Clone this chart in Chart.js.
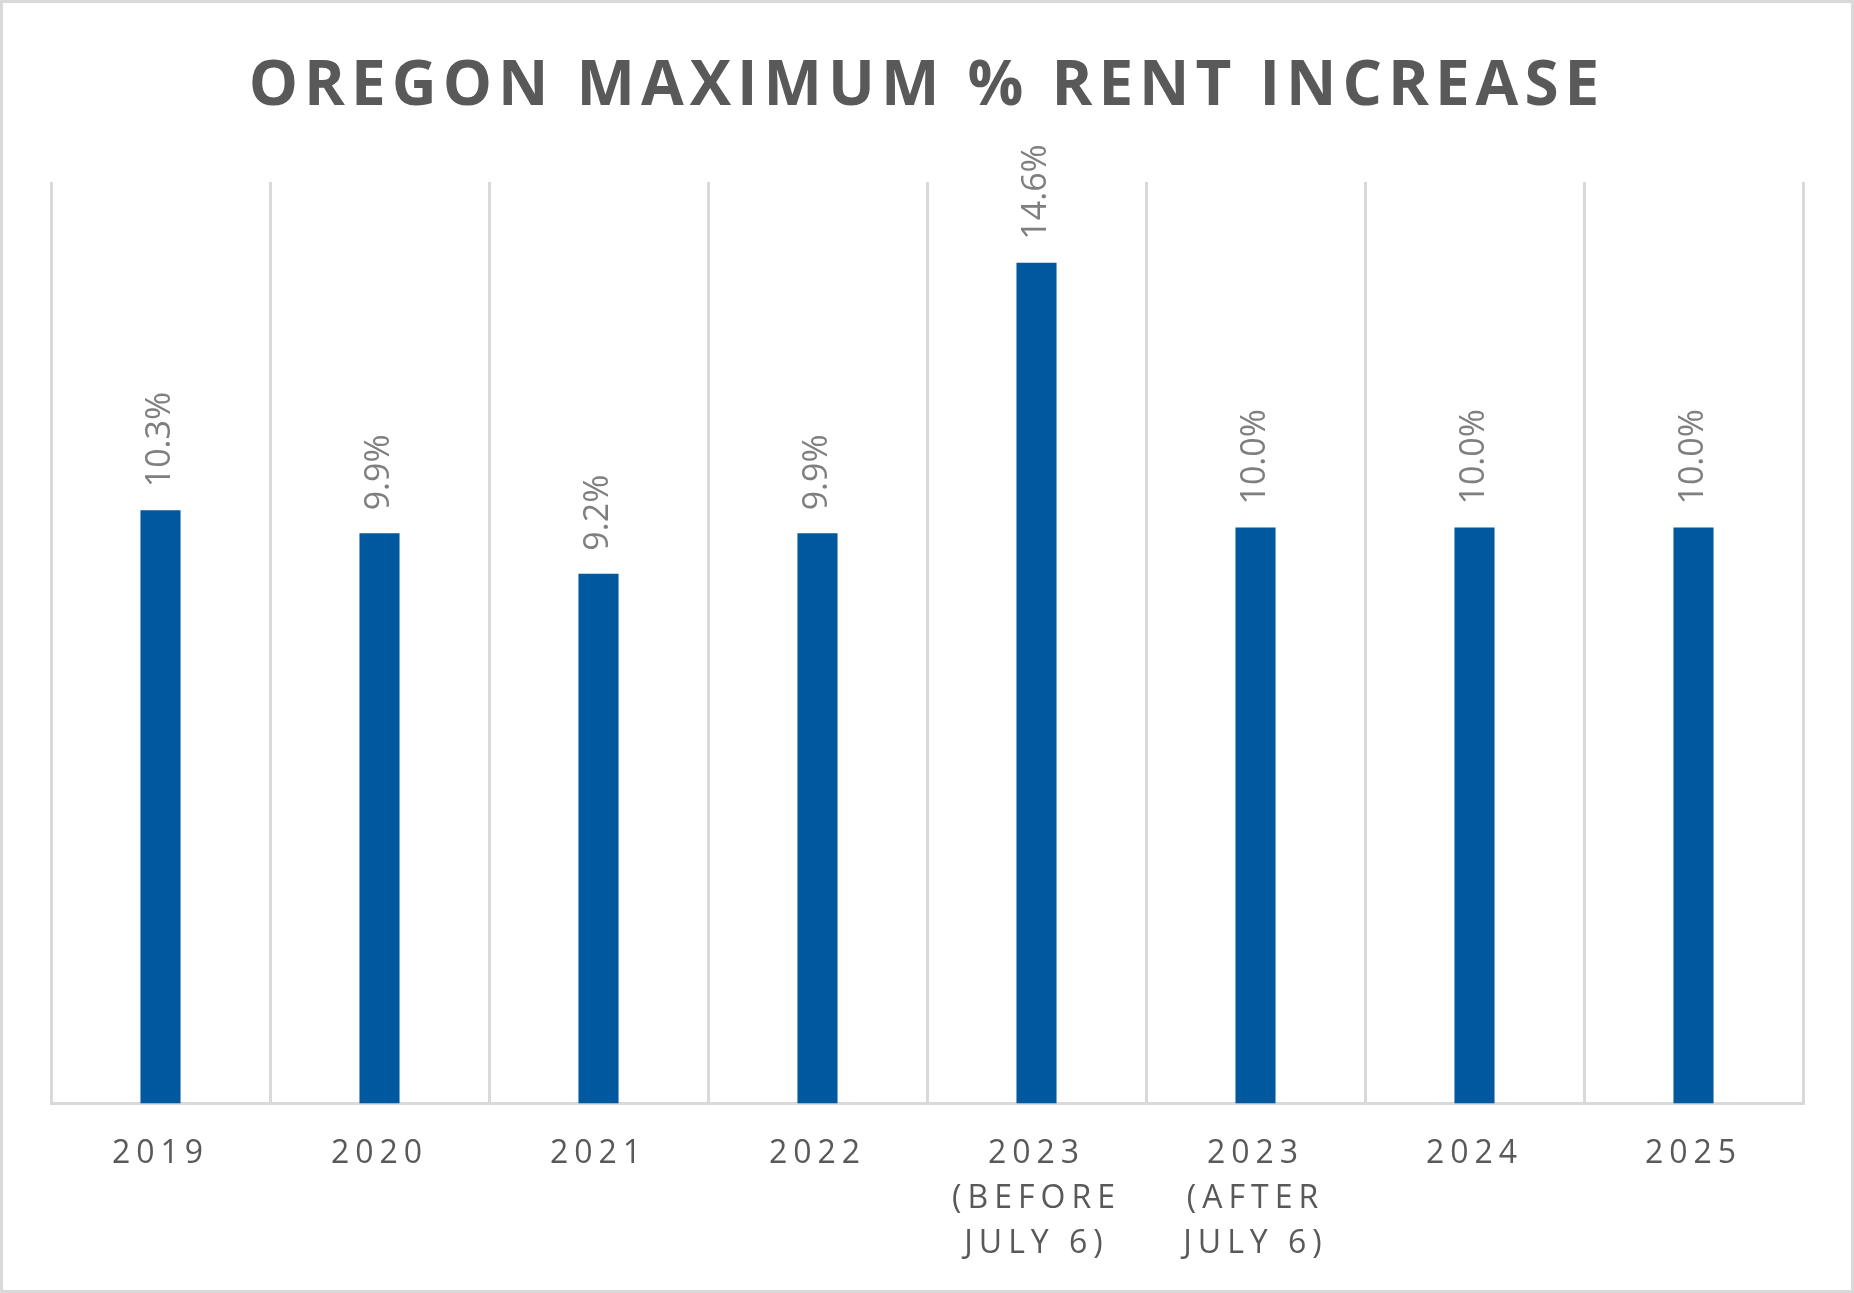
<!DOCTYPE html>
<html>
<head>
<meta charset="utf-8">
<script src="https://cdn.jsdelivr.net/npm/chart.js@4"></script>
<style>
    body { margin: 0; background: #fff; }
    .frame {
        width: 1854px;
        height: 1293px;
        box-sizing: border-box;
        border: 3px solid #d9d9d9;
        background: #fff;
    }
    .frame canvas { display: block; }
</style>
</head>
<body>
<div class="frame">
    <canvas id="rentChart" width="1848" height="1287"></canvas>
</div>
<script>
// chart data
const years = ['2019', '2020', '2021', '2022', ['2023', '(BEFORE', 'JULY 6)'], ['2023', '(AFTER', 'JULY 6)'], '2024', '2025'];
const maxIncrease = [10.3, 9.9, 9.2, 9.9, 14.6, 10.0, 10.0, 10.0];
const chartTitle = 'OREGON MAXIMUM % RENT INCREASE';

// letter spacing for title + axis labels (canvas state gets reset on resize, so set it again)
const spacing = {
    id: 'spacing',
    beforeLayout(chart) { chart.ctx.letterSpacing = '6px'; },
    beforeDraw(chart) { chart.ctx.letterSpacing = '6px'; }
};

// rotated value labels above the bars
const barLabels = {
    id: 'barLabels',
    afterDatasetsDraw(chart) {
        const ctx = chart.ctx;
        const bars = chart.getDatasetMeta(0).data;
        ctx.save();
        ctx.letterSpacing = '0px';
        ctx.font = '34px "Open Sans"';
        ctx.fillStyle = '#7f7f7f';
        ctx.textAlign = 'left';
        ctx.textBaseline = 'middle';
        bars.forEach((bar, i) => {
            ctx.save();
            ctx.translate(bar.x, bar.y - 23);
            ctx.rotate(-Math.PI / 2);
            ctx.fillText(maxIncrease[i].toFixed(1) + '%', 0, 0);
            ctx.restore();
        });
        ctx.restore();
    }
};

const ctx = document.getElementById('rentChart');

new Chart(ctx, {
    type: 'bar',
    data: {
        labels: years,
        datasets: [
            {
                data: maxIncrease,
                backgroundColor: '#00589f',
                barPercentage: 0.183,
                categoryPercentage: 1,
            }
        ]
    },
    options: {
        responsive: false,
        animation: false,
        layout: {
            padding: { left: 48, right: 48, top: 0, bottom: 0 }
        },
        plugins: {
            legend: { display: false },
            tooltip: { enabled: false },
            title: {
                display: true,
                text: chartTitle,
                color: '#595959',
                font: { family: '"Open Sans"', size: 62, weight: 'bold', lineHeight: 1.2 },
                padding: { top: 46.8, bottom: 57.8 }
            }
        },
        scales: {
            x: {
                grid: {
                    color: '#d9d9d9',
                    lineWidth: 3,
                    drawTicks: false
                },
                border: { color: '#d9d9d9', width: 3 },
                ticks: {
                    color: '#595959',
                    font: { family: '"Open Sans"', size: 32, lineHeight: 1.4 },
                    padding: 28,
                    maxRotation: 0,
                    autoSkip: false
                },
                afterFit(scale) {
                    scale.height = 186.5;
                }
            },
            y: {
                display: false,
                min: 0,
                max: 16
            }
        }
    },
    plugins: [spacing, barLabels]
});
</script>
</body>
</html>
